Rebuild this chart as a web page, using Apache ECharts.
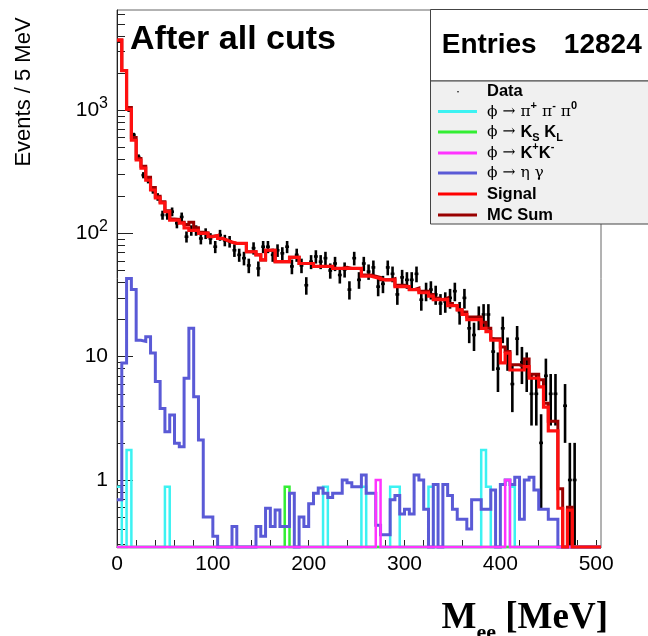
<!DOCTYPE html>
<html><head><meta charset="utf-8">
<script src="https://cdn.jsdelivr.net/npm/echarts@6/dist/echarts.min.js"></script>
<style>html,body{margin:0;padding:0;background:#fff}#c{width:648px;height:636px}</style>
</head><body><div id="c"></div>
<script>
// ---- binning / axes ----
const BIN_WIDTH = 5;
const N_BINS = 101;
const X_MIN = 0, X_MAX = 505;
const Y_MIN = 0.286, Y_MAX = 6490;
const xLabelValues = [0, 100, 200, 300, 400, 500];
const xTickValues = [0,20,40,60,80,100,120,140,160,180,200,220,240,260,280,300,320,340,360,380,400,420,440,460,480,500];
const yMajorTicks = [1, 10, 100, 1000];
const yMinorTicks = [0.3,0.4,0.5,0.6,0.7,0.8,0.9,2,3,4,5,6,7,8,9,20,30,40,50,60,70,80,90,200,300,400,500,600,700,800,900,2000,3000,4000,5000,6000];
const ENTRIES = 12824;

// ---- series values (per 5 MeV bin) ----
const signal = [3700,2090,1015,570,394,338,271,225,194,177,
  150,128,128,121,111,106,106,100,100,94,
  96,91,88,85,83,83,83,71,71,67,
  61,73,73,59,59,59,64,64,57,57,
  57,54,54,54,54,52,52,52,52,52,
  52,45,45,44,43,42,42,42,37,37,
  37,35,35,33,33,31,29,29,29,26,
  26,24,22,20,20,20,17,16,13.6,13.6,
  8.9,10.7,7.8,7.8,7.8,8.3,6.7,6.7,5.7,3.9,
  2.5,2.5,0.59,0,0.57,0,0,0,0,0,
  0];
const mcSum = [3705,2100,1050,600,405,350,285,236,200,181,
  153,131,130,123,118,123,111,102,101,95,
  96,91,88,85,83,83,83,71,71,67,
  61,73,73,59,59,59,64,64,57,57,
  57,54,54,54,54,52,52,53,52,52,
  52,46,46,45,44,42,42,43,38,38,
  37,35,36,34,34,32,30,29,30,27,
  26,24,23,21,21,21,19,17,14,14,
  12,11,8.6,8.6,8.3,9.6,7.2,7.2,6.5,4.2,
  3,3,0.85,0,0.6,0,0,0,0,0,
  0];
const dataCounts = [3600,2100,1000,630,417,297,271,225,198,141,
  141,150,121,136,94,106,106,91,100,91,
  78,97,88,86,73,67,63,55,76,52,
  78,78,67,73,69,78,54,67,55,38,
  59,65,59,63,50,57,46,51,35,63,
  42,57,49,53,37,39,53,47,32,44,
  42,42,47,29,34,35,32,27,28,30,
  34,23,30,17,15,21,22,22,11,8,
  17,11,6,14,9,8,5,5,2,7,
  5,5,0,4,1,1,0,0,0,0,
  0];
const etaGamma = [0.69,8.9,43,35,13.6,13.3,14.5,10.7,6.3,3.8,
  2.46,3.37,1.99,1.86,6.7,17,4.74,2.11,0.5,0.5,
  0.35,0,0,0,0.42,0,0,0,0,0.42,
  0.35,0.59,0.42,0.57,0.42,0.42,0.78,0,0.5,0.42,
  0.64,0.78,0.86,0.78,0.72,0.78,0.78,1.0,0.95,0.88,
  0.88,1.1,0.78,0.78,0.43,0.36,0.36,0.69,0.75,0.53,
  0.58,0.53,1.1,1.0,0.58,0,0.92,0,0.92,0.75,
  0.58,0.48,0.48,0.4,0.69,0.69,0.58,0.58,0.83,0,
  0.92,1.0,0.92,1.05,0.48,1.0,1.05,0.83,0.58,0.58,
  0.48,0.48,0,0,0,0,0,0,0,0,
  0];
// sparse backgrounds: bin index -> content
const pipipiBins = [0, 2, 10, 43, 51, 57, 58, 65, 76, 77, 82];
const pipipiVals = [0.88, 1.75, 0.88, 0.88, 0.88, 0.88, 0.88, 0.88, 1.75, 0.88, 0.88];
const ksklBins = [35];
const ksklVals = [0.88];
const kpkmBins = [54, 81];
const kpkmVals = [1.0, 1.0];

// ---- helpers ----
function expand(bins, vals) {
  const a = new Array(N_BINS).fill(0);
  bins.forEach((b, i) => { a[b] = vals[i]; });
  return a;
}
function histPoints(vals) {
  const pts = vals.map((v, i) => [X_MIN + i * BIN_WIDTH, v > Y_MIN ? v : Y_MIN]);
  const last = pts[pts.length - 1][1];
  pts.push([X_MIN + vals.length * BIN_WIDTH, last]);
  return pts;
}
function histSeries(name, vals, color, width) {
  return {
    name, type: 'line', step: 'end', data: histPoints(vals),
    showSymbol: false, symbol: 'none', clip: false, silent: true,
    lineStyle: { color, width, join: 'miter', cap: 'butt' },
    xAxisIndex: 0, yAxisIndex: 0, animation: false
  };
}
const dataPoints = [];
dataCounts.forEach((n, i) => { if (n > 0) dataPoints.push([X_MIN + (i + 0.5) * BIN_WIDTH, n]); });

const FONT = 'Liberation Sans, Arial, Helvetica, sans-serif';
const SERIF = "'Liberation Serif', 'DejaVu Serif', serif";
const GREEK = "'DejaVu Serif', 'Liberation Serif', serif";

const chart = echarts.init(document.getElementById('c'), null, { renderer: 'canvas' });

const legendRich = {
  b: { fontFamily: FONT, fontWeight: 'bold', fontSize: 16.5, color: '#000' },
  g: { fontFamily: GREEK, fontSize: 15.5, color: '#000' },
  k: { fontFamily: FONT, fontWeight: 'bold', fontSize: 16.5, color: '#000' },
  sup: { fontFamily: FONT, fontWeight: 'bold', fontSize: 11, color: '#000', padding: [0, 0, 12, 0] },
  sub: { fontFamily: FONT, fontWeight: 'bold', fontSize: 11, color: '#000', padding: [12, 0, 0, 0] }
};
const LEG_X_LINE1 = 438, LEG_X_LINE2 = 477, LEG_X_TEXT = 487;
const legendItems = [
  { y: 91.7, color: null, text: '{b|Data}' },
  { y: 111.5, color: '#3cf2f2', text: '{g|ϕ → π}{sup|+}{g| π}{sup|-}{g| π}{sup|0}' },
  { y: 132, color: '#33ee33', text: '{g|ϕ → }{k|K}{sub|S}{k| K}{sub|L}' },
  { y: 153, color: '#ff33ff', text: '{g|ϕ → }{k|K}{sup|+}{k|K}{sup|-}' },
  { y: 173, color: '#5a5ad6', text: '{g|ϕ → η γ}' },
  { y: 194, color: '#ff0000', text: '{b|Signal}' },
  { y: 215, color: '#990000', text: '{b|MC Sum}' }
];
const graphics = [
  { type: 'rect', z: 100, shape: { x: 430.5, y: 9.5, width: 230, height: 71.5 }, style: { fill: '#ffffff', stroke: '#444', lineWidth: 1 } },
  { type: 'rect', z: 100, shape: { x: 430.5, y: 81, width: 230, height: 143 }, style: { fill: '#f0f0f0', stroke: '#444', lineWidth: 1 } },
  { type: 'text', z: 101, x: 441.7, y: 45, style: { text: 'Entries', font: 'bold 28px ' + FONT, fill: '#000', align: 'left', verticalAlign: 'middle' } },
  { type: 'text', z: 101, x: 641.7, y: 45, style: { text: String(ENTRIES), font: 'bold 28px ' + FONT, fill: '#000', align: 'right', verticalAlign: 'middle' } },
  { type: 'text', z: 101, x: 130, y: 40, style: { text: 'After all cuts', font: 'bold 34px ' + FONT, fill: '#000', align: 'left', verticalAlign: 'middle' } },
  { type: 'text', z: 101, x: 24, y: 92, rotation: Math.PI / 2, style: { text: 'Events / 5 MeV', font: '22px ' + FONT, fill: '#000', align: 'center', verticalAlign: 'middle' } },
  { type: 'text', z: 101, x: 608, y: 618, style: {
      text: '{m|M}{s|ee}{m| [MeV]}', align: 'right', verticalAlign: 'middle',
      rich: {
        m: { fontFamily: SERIF, fontWeight: 'bold', fontSize: 37, color: '#000' },
        s: { fontFamily: SERIF, fontWeight: 'bold', fontSize: 22, color: '#000', padding: [30, 0, 0, 0] }
      } } }
];
legendItems.forEach(it => {
  if (it.color) {
    graphics.push({ type: 'line', z: 101, shape: { x1: LEG_X_LINE1, y1: it.y, x2: LEG_X_LINE2, y2: it.y }, style: { stroke: it.color, lineWidth: 3 } });
  } else {
    graphics.push({ type: 'circle', z: 101, shape: { cx: 458, cy: it.y, r: 0.8 }, style: { fill: '#000' } });
  }
  graphics.push({ type: 'text', z: 101, x: LEG_X_TEXT, y: it.y, style: { text: it.text, rich: legendRich, align: 'left', verticalAlign: 'middle' } });
});

const option = {
  animation: false,
  backgroundColor: '#ffffff',
  grid: { left: 117, top: 10, width: 484, height: 537, show: true, borderColor: '#666', borderWidth: 1, backgroundColor: 'transparent' },
  xAxis: {
    type: 'value', min: X_MIN, max: X_MAX, position: 'bottom',
    axisLine: { show: true, onZero: false, lineStyle: { color: '#222', width: 1 } },
    axisTick: { show: true, inside: true, length: 7, customValues: xTickValues, lineStyle: { color: '#222' } },
    axisLabel: { customValues: xLabelValues, fontSize: 21, fontFamily: FONT, color: '#000', margin: 7 },
    splitLine: { show: false }, minorTick: { show: false }
  },
  yAxis: [
    {
      type: 'log', logBase: 10, min: Y_MIN, max: Y_MAX, position: 'left',
      axisLine: { show: true, onZero: false, lineStyle: { color: '#222', width: 1 } },
      axisTick: { show: true, inside: true, length: 16, customValues: yMajorTicks, lineStyle: { color: '#222' } },
      axisLabel: {
        customValues: yMajorTicks, fontSize: 21, fontFamily: FONT, color: '#000', margin: 9,
        formatter: v => {
          const e = Math.round(Math.log10(v));
          if (e === 0) return '{n|1}';
          if (e === 1) return '{n|10}';
          return '{n|10}{p|' + e + '}';
        },
        rich: {
          n: { fontSize: 21, fontFamily: FONT, color: '#000' },
          p: { fontSize: 16, fontFamily: FONT, color: '#000', padding: [0, 0, 14, 0] }
        }
      },
      splitLine: { show: false }, minorTick: { show: false }
    },
    {
      type: 'log', logBase: 10, min: Y_MIN, max: Y_MAX, position: 'left', offset: 0,
      axisLine: { show: false },
      axisTick: { show: true, inside: true, length: 8, customValues: yMinorTicks, lineStyle: { color: '#222' } },
      axisLabel: { show: false },
      splitLine: { show: false }, minorTick: { show: false }
    }
  ],
  series: [
    histSeries('MC Sum', mcSum, '#990000', 3),
    histSeries('pipipi', expand(pipipiBins, pipipiVals), '#3cf2f2', 2.5),
    histSeries('KsKl', expand(ksklBins, ksklVals), '#33ee33', 2.5),
    histSeries('etagamma', etaGamma, '#5a5ad6', 3),
    histSeries('K+K-', expand(kpkmBins, kpkmVals), '#ff33ff', 2.5),
    histSeries('Signal', signal, '#ff1010', 3.2),
    {
      name: 'Data', type: 'custom', coordinateSystem: 'cartesian2d', xAxisIndex: 0, yAxisIndex: 0,
      data: dataPoints, encode: { x: 0, y: 1 }, silent: true, animation: false, clip: true,
      renderItem: function (params, api) {
        const xc = api.value(0), n = api.value(1);
        const e = Math.sqrt(n);
        const top = api.coord([xc, n + e]);
        const bot = api.coord([xc, Math.max(n - e, Y_MIN)]);
        const l = api.coord([xc - BIN_WIDTH * 0.4, n]);
        const r = api.coord([xc + BIN_WIDTH * 0.4, n]);
        return { type: 'group', children: [
          { type: 'line', shape: { x1: top[0], y1: top[1], x2: bot[0], y2: bot[1] }, style: { stroke: '#000', lineWidth: 2.6 } },
          { type: 'line', shape: { x1: l[0], y1: l[1], x2: r[0], y2: r[1] }, style: { stroke: '#000', lineWidth: 2.6 } }
        ] };
      }
    }
  ],
  graphic: graphics
};
chart.setOption(option);
</script></body></html>
